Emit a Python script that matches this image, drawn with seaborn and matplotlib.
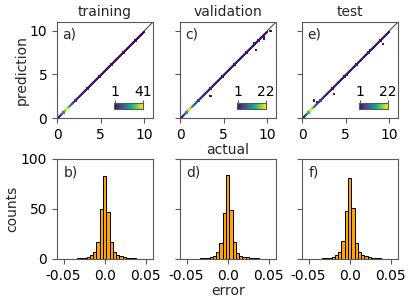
import numpy as np
import matplotlib
matplotlib.use("Agg")
import matplotlib.pyplot as plt
import seaborn as sns

sns.set_style("ticks")
plt.rcParams.update({
    'font.family': ['DejaVu Sans'],
    'font.size': 10,
    'axes.edgecolor': '0.35',
    'xtick.color': '0.35',
    'ytick.color': '0.35',
    'xtick.labelcolor': 'black',
    'ytick.labelcolor': 'black',
})

# ---- parity data: counts per diagonal cell (cell width 0.125, 0..10) ----
CELL = 0.125
train_diag = [1, 2, 4, 7, 12, 20, 30, 37,
              41, 37, 30, 24, 18, 13, 10, 8,
              6, 5, 5, 4, 4, 3, 3, 3,
              3, 2, 3, 2, 2, 3, 2, 2,
              2, 2, 2, 2, 1, 2, 2, 2,
              2, 1, 2, 2, 1, 2, 1, 2,
              1, 2, 1, 1, 2, 1, 1, 2,
              1, 1, 2, 1, 1, 1, 2, 1,
              1, 1, 1, 2, 1, 1, 1, 1,
              1, 1, 1, 1, 1, 1, 1, 1]
val_diag = [1, 1, 2, 4, 7, 11, 16, 20,
            22, 19, 15, 12, 9, 7, 6, 5,
            4, 4, 3, 3, 3, 2, 2, 2,
            2, 2, 1, 2, 2, 1, 2, 1,
            1, 2, 1, 1, 2, 1, 1, 1,
            1, 1, 2, 1, 1, 1, 1, 2,
            1, 1, 1, 1, 2, 1, 1, 1,
            1, 1, 1, 2, 1, 1, 1, 1,
            1, 2, 1, 1, 1, 1, 1, 1,
            1, 1, 1, 1, 1, 1, 1, 1]
test_diag = [1, 1, 3, 5, 9, 14, 19, 22,
             21, 17, 13, 10, 8, 6, 5, 4,
             4, 3, 3, 3, 2, 2, 2, 2,
             2, 2, 2, 1, 2, 2, 1, 2,
             1, 1, 2, 1, 1, 2, 1, 1,
             2, 1, 1, 1, 1, 2, 1, 1,
             1, 1, 2, 1, 1, 1, 1, 2,
             1, 1, 1, 1, 2, 1, 1, 1,
             1, 1, 1, 1, 1, 2, 1, 1,
             1, 1, 1, 1, 1, 1, 1, 1]

# scattered points off the diagonal (actual, prediction), one count each
train_off_x, train_off_y = [], []
val_off_x = [3.4, 8.7, 9.6, 9.5, 10.3, 8.4]
val_off_y = [2.6, 7.8, 9.1, 9.3, 10.1, 8.7]
test_off_x = [1.25, 1.7, 3.5, 5.1, 6.9, 7.7, 9.0, 9.15]
test_off_y = [2.05, 1.9, 2.8, 4.9, 6.9, 7.8, 9.1, 8.6]

# ---- error histograms (25 bins of width 0.004 from -0.05 to 0.05) ----
err_edges = np.linspace(-0.05, 0.05, 26)
train_err = [0, 0.3, 0.4, 0.5, 0.7, 1, 1.5, 2, 4, 7, 17, 50, 83,
             47, 17, 7, 4, 3, 2, 1.2, 1, 0.7, 0.5, 0.3, 0]
val_err = [0, 0.3, 0.4, 0.5, 0.7, 1, 1.5, 2, 3.5, 7, 16, 46, 84,
           49, 17, 6, 3, 2.5, 2, 1.2, 1, 0.7, 0.5, 0.3, 0]
test_err = [0, 0.3, 0.4, 0.5, 0.7, 1, 1.5, 2, 4, 7, 18, 48, 81,
            51, 16, 7, 4, 3, 2, 1.2, 1, 0.7, 0.5, 0.3, 0]

titles = ["training", "validation", "test"]
top_labels = ["a)", "c)", "e)"]
bot_labels = ["b)", "d)", "f)"]

W, H = 415, 303
fig = plt.figure(figsize=(W / 100, H / 100), dpi=100)
lefts = [57, 180, 302]

parity = [(train_diag, train_off_x, train_off_y),
          (val_diag, val_off_x, val_off_y),
          (test_diag, test_off_x, test_off_y)]
errs = [train_err, val_err, test_err]

for i in range(3):
    diag, offx, offy = parity[i]
    centers = (np.arange(len(diag)) + 0.5) * CELL
    x = np.concatenate([centers, offx])
    y = np.concatenate([centers, offy])
    w = np.concatenate([diag, np.ones(len(offx))])

    ax = fig.add_axes([lefts[i] / W, 1 - 118 / H, 96 / W, 96 / H])
    cax = ax.inset_axes([0.594, 0.094, 0.30, 0.0625])
    sns.histplot(x=x, y=y, weights=w, binwidth=CELL, binrange=(0, 11),
                 cmap="viridis", ax=ax, cbar=True, cbar_ax=cax,
                 cbar_kws={"orientation": "horizontal"},
                 linewidth=0.7, edgecolor="face")
    ax.plot([0, 11], [0, 11], color="0.3", lw=0.8, zorder=0)
    ax.set_xlim(0, 11)
    ax.set_ylim(0, 11)
    ax.set_xticks([0, 5, 10])
    ax.set_yticks([0, 5, 10])
    ax.set_title(titles[i], fontsize=10, pad=4)
    ax.text(0.05, 0.94, top_labels[i], transform=ax.transAxes,
            va="top", ha="left", fontsize=10)
    vmax = int(max(diag))
    cax.set_xticks([1, vmax])
    cax.xaxis.set_ticks_position("top")
    cax.tick_params(labelsize=10, length=2, pad=1)
    for sp in cax.spines.values():
        sp.set_edgecolor("0.35")
    ax.set_xlabel("actual" if i == 1 else "", labelpad=1)
    if i == 0:
        ax.set_ylabel("prediction", labelpad=1)
    else:
        ax.set_ylabel("")
        ax.set_yticklabels([])

    bx = fig.add_axes([lefts[i] / W, 1 - 259 / H, 96 / W, 100 / H])
    bin_centers = (err_edges[:-1] + err_edges[1:]) / 2
    sns.histplot(x=list(bin_centers), weights=list(errs[i]),
                 bins=list(err_edges), ax=bx,
                 color="orange", edgecolor="black", linewidth=0.7, alpha=1)
    bx.set_xlim(-0.058, 0.059)
    bx.set_ylim(0, 100)
    bx.set_xticks([-0.05, 0.0, 0.05])
    bx.set_xticklabels(["-0.05", "0.0", "0.05"])
    bx.set_yticks([0, 50, 100])
    bx.text(0.07, 0.94, bot_labels[i], transform=bx.transAxes,
            va="top", ha="left", fontsize=10)
    bx.set_xlabel("error" if i == 1 else "", labelpad=1)
    if i == 0:
        bx.set_ylabel("counts", labelpad=1)
    else:
        bx.set_ylabel("")
        bx.set_yticklabels([])

fig.savefig("out.png", dpi=100)
